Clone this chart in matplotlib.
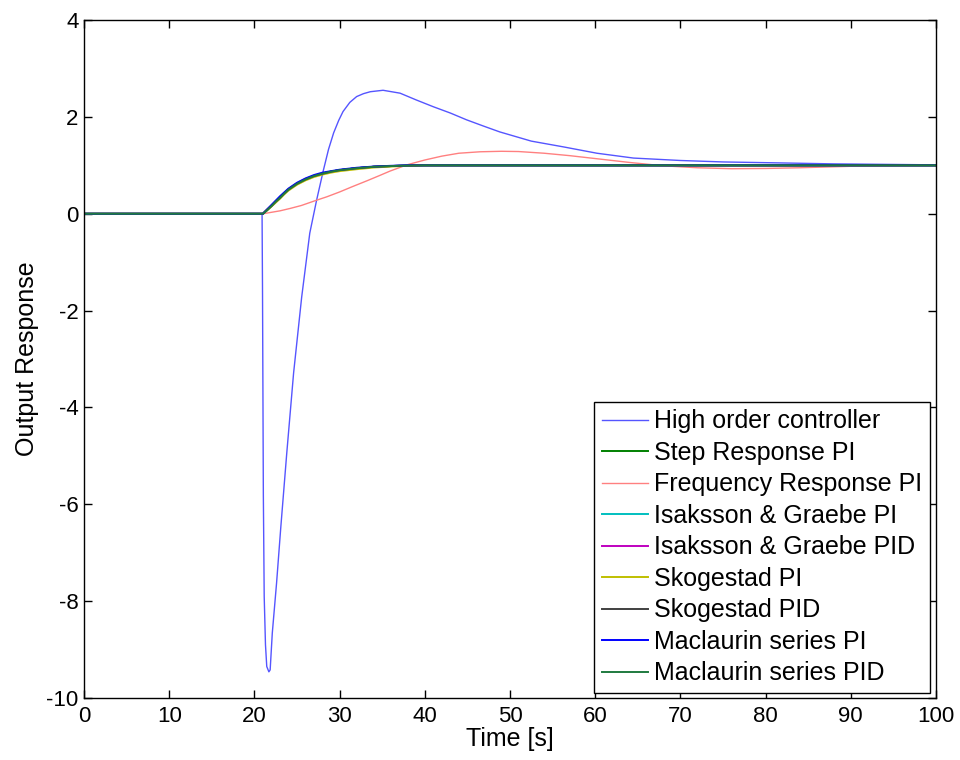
import matplotlib
matplotlib.use("Agg")
import matplotlib.pyplot as plt

plt.rcParams['font.family'] = ['Liberation Sans', 'DejaVu Sans']
plt.rcParams['axes.unicode_minus'] = False

# respuesta del controlador de alto orden
t_alto = [0, 20.9, 20.95, 21.05, 21.15, 21.3, 21.45, 21.7, 21.85, 22.1, 22.6, 23.1,
          23.8, 24.6, 25.55, 26.5, 27.3, 28.1, 28.7, 29.3, 29.9, 30.4, 31.2, 32.0,
          32.8, 33.6, 35.1, 37.1, 39.0, 41.0, 43.0, 44.9, 46.9, 48.8, 52.5, 56.3,
          60.2, 64.5, 70.0, 75.0, 81.7, 88.0, 94.0, 100]
y_alto = [0, 0, -1.5, -5.8, -7.9, -8.9, -9.35, -9.46, -9.42, -8.66, -7.63, -6.47,
          -4.94, -3.29, -1.72, -0.40, 0.28, 0.90, 1.33, 1.67, 1.93, 2.11, 2.30, 2.42,
          2.48, 2.52, 2.55, 2.49, 2.35, 2.21, 2.08, 1.94, 1.81, 1.69, 1.50, 1.38,
          1.25, 1.15, 1.10, 1.07, 1.05, 1.03, 1.02, 1.01]

# respuesta en frecuencia PI
t_frec = [0, 21.0, 22.0, 23.0, 24.2, 25.5, 27.3, 28.5, 30.0, 31.5, 33.2, 34.7, 35.9,
          37.9, 40.0, 42.0, 44.0, 46.5, 49.0, 51.0, 54.0, 57.0, 60.0, 64.0, 68.0,
          72.0, 76.0, 80.0, 84.0, 88.0, 92.0, 96.0, 100]
y_frec = [0, 0, 0.03, 0.06, 0.11, 0.17, 0.28, 0.35, 0.45, 0.56, 0.68, 0.79, 0.88,
          1.01, 1.11, 1.19, 1.25, 1.28, 1.29, 1.285, 1.25, 1.20, 1.14, 1.06, 0.99,
          0.95, 0.93, 0.935, 0.95, 0.97, 0.99, 1.0, 1.0]

# grupo de controladores rapidos (casi iguales)
t_rapido = [0, 21.0, 21.5, 22.0, 22.5, 23.0, 23.5, 24.0, 25.0, 26.0, 27.0, 28.0,
            29.0, 30.0, 32.0, 34.0, 36.0, 38.0, 40.0, 100]
y_step_pi = [0, 0, 0.08, 0.16, 0.25, 0.33, 0.42, 0.50, 0.62, 0.71, 0.78, 0.83,
             0.87, 0.90, 0.94, 0.97, 0.985, 0.995, 1.0, 1.0]
y_ig_pi = [0, 0, 0.08, 0.17, 0.25, 0.34, 0.42, 0.50, 0.62, 0.71, 0.78, 0.83,
           0.87, 0.90, 0.94, 0.97, 0.985, 0.995, 1.0, 1.0]
y_ig_pid = [0, 0, 0.09, 0.17, 0.26, 0.34, 0.43, 0.51, 0.63, 0.72, 0.78, 0.83,
            0.87, 0.90, 0.94, 0.97, 0.985, 0.995, 1.0, 1.0]
y_sko_pi = [0, 0, 0.07, 0.15, 0.23, 0.31, 0.40, 0.48, 0.60, 0.69, 0.76, 0.81,
            0.85, 0.88, 0.92, 0.955, 0.975, 0.99, 1.0, 1.0]
y_sko_pid = [0, 0, 0.08, 0.16, 0.25, 0.33, 0.42, 0.50, 0.62, 0.71, 0.78, 0.83,
             0.87, 0.90, 0.94, 0.97, 0.985, 0.995, 1.0, 1.0]
y_mac_pi = [0, 0, 0.09, 0.18, 0.27, 0.36, 0.44, 0.52, 0.64, 0.73, 0.80, 0.85,
            0.88, 0.91, 0.95, 0.975, 0.99, 1.0, 1.0, 1.0]
y_mac_pid = [0, 0, 0.08, 0.16, 0.25, 0.33, 0.42, 0.50, 0.62, 0.71, 0.78, 0.83,
             0.87, 0.90, 0.94, 0.97, 0.985, 0.995, 1.0, 1.0]

etiquetas = ['High order controller', 'Step Response PI', 'Frequency Response PI',
             'Isaksson & Graebe PI', 'Isaksson & Graebe PID', 'Skogestad PI',
             'Skogestad PID', 'Maclaurin series PI', 'Maclaurin series PID']

fig = plt.figure(figsize=(9.6, 7.6), dpi=100)
ax = fig.add_axes([0.0875, 0.0816, 0.8875, 0.892])

ax.plot(t_alto, y_alto, color='#5555ff', lw=1.0, label=etiquetas[0])
ax.plot(t_rapido, y_step_pi, color='#008000', lw=1.4, label=etiquetas[1])
ax.plot(t_frec, y_frec, color='#ff8080', lw=1.0, label=etiquetas[2])
ax.plot(t_rapido, y_ig_pi, color='#00bfbf', lw=1.4, label=etiquetas[3])
ax.plot(t_rapido, y_ig_pid, color='#bf00bf', lw=1.4, label=etiquetas[4])
ax.plot(t_rapido, y_sko_pi, color='#bfbf00', lw=1.4, label=etiquetas[5])
ax.plot(t_rapido, y_sko_pid, color='#404040', lw=1.4, label=etiquetas[6])
ax.plot(t_rapido, y_mac_pi, color='#0000ff', lw=1.4, label=etiquetas[7])
ax.plot(t_rapido, y_mac_pid, color='#1f7a3f', lw=1.4, label=etiquetas[8])

ax.set_xlim(0, 100)
ax.set_ylim(-10, 4)
ax.set_xticks(range(0, 101, 10))
ax.set_yticks(range(-10, 5, 2))
ax.tick_params(direction='in', top=True, right=True, length=6, width=1,
               labelsize=16)
ax.tick_params(axis='x', pad=6)
ax.tick_params(axis='y', pad=4)
for s in ax.spines.values():
    s.set_linewidth(1)

ax.set_xlabel('Time [s]', fontsize=18, labelpad=0)
ax.set_ylabel('Output Response', fontsize=18, labelpad=5)

leg = ax.legend(loc='lower right', bbox_to_anchor=(0.993, 0.0074), borderaxespad=0,
                fontsize=18, handlelength=1.85, handletextpad=0.25,
                labelspacing=0.3, borderpad=0.3, fancybox=False, framealpha=1)
leg.get_frame().set_edgecolor('black')
leg.get_frame().set_linewidth(1)

plt.savefig('out.png', dpi=100)
